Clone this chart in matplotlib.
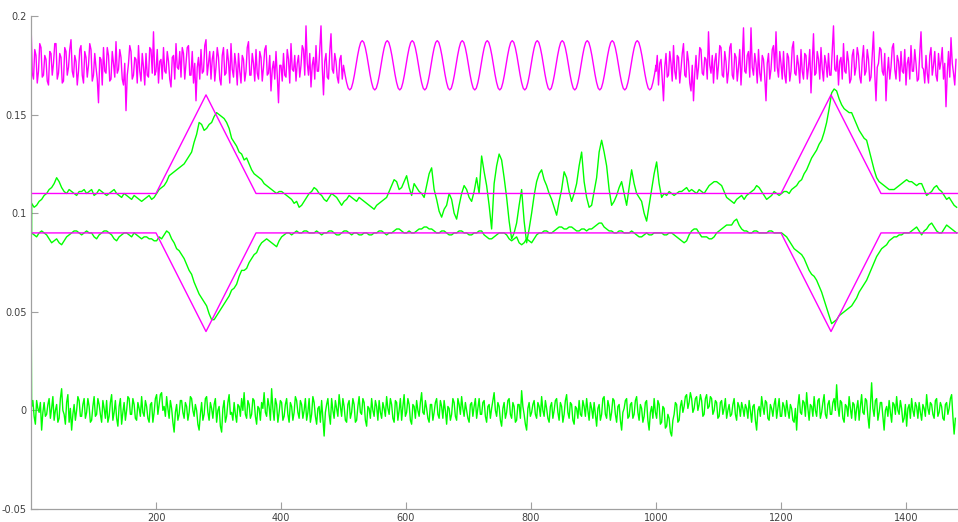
import numpy as np
import matplotlib
matplotlib.use("Agg")
import matplotlib.pyplot as plt

MAGENTA = "#ff00ff"
GREEN = "#00ff00"

# -------- reference profiles (breakpoints) --------
ref_x = [0, 200, 280, 360, 1200, 1280, 1360, 1483]
ref_upper = [0.11, 0.11, 0.16, 0.11, 0.11, 0.16, 0.11, 0.11]
ref_lower = [0.09, 0.09, 0.04, 0.09, 0.09, 0.04, 0.09, 0.09]

# -------- top magenta trace, values in 1e-3 --------
# noisy part, x = 0..500 step 2
top_noise_a = [
    197, 171, 168, 183, 180, 166, 172, 186, 184, 169, 170, 180, 178, 167, 165, 182, 181, 170, 176, 186,
    186, 168, 171, 181, 179, 166, 167, 184, 182, 170, 174, 183, 188, 172, 169, 180, 177, 165, 172, 183,
    185, 170, 166, 182, 179, 169, 175, 186, 183, 167, 170, 181, 174, 168, 156, 179, 178, 165, 184, 172,
    171, 184, 180, 167, 168, 182, 176, 169, 187, 171, 173, 183, 179, 168, 165, 176, 152, 170, 176, 185,
    182, 168, 170, 179, 178, 166, 185, 172, 167, 181, 174, 165, 181, 170, 169, 184, 183, 171, 192, 170,
    172, 183, 166, 177, 178, 168, 184, 172, 171, 182, 177, 168, 164, 179, 180, 168, 186, 174, 173, 182,
    169, 184, 181, 168, 176, 184, 185, 170, 170, 182, 166, 176, 157, 174, 179, 168, 183, 171, 172, 185,
    188, 170, 176, 182, 168, 178, 182, 167, 174, 184, 179, 168, 165, 180, 184, 170, 171, 183, 177, 166,
    186, 173, 169, 181, 175, 165, 181, 172, 166, 180, 178, 167, 172, 184, 187, 170, 170, 181, 176, 167,
    183, 171, 168, 182, 179, 167, 174, 183, 185, 170, 171, 180, 162, 173, 177, 168, 182, 170, 156, 175,
    175, 167, 181, 170, 169, 183, 178, 166, 186, 173, 172, 180, 167, 176, 180, 169, 175, 185, 183, 170,
    195, 176, 170, 181, 164, 175, 179, 168, 185, 172, 172, 183, 195, 174, 160, 177, 181, 169, 168, 182,
    191, 173, 171, 181, 177, 169, 166, 178, 180, 168, 175,
]
# clean oscillation, x = 500..1000 step 2.5
top_wave = [
    175.0, 170.2, 166.2, 163.4, 162.5, 163.4, 166.2, 170.2, 175.0, 179.8, 183.8, 186.6, 187.5, 186.6, 183.8, 179.8,
    175.0, 170.2, 166.2, 163.4, 162.5, 163.4, 166.2, 170.2, 175.0, 179.8, 183.8, 186.6, 187.5, 186.6, 183.8, 179.8,
    175.0, 170.2, 166.2, 163.4, 162.5, 163.4, 166.2, 170.2, 175.0, 179.8, 183.8, 186.6, 187.5, 186.6, 183.8, 179.8,
    175.0, 170.2, 166.2, 163.4, 162.5, 163.4, 166.2, 170.2, 175.0, 179.8, 183.8, 186.6, 187.5, 186.6, 183.8, 179.8,
    175.0, 170.2, 166.2, 163.4, 162.5, 163.4, 166.2, 170.2, 175.0, 179.8, 183.8, 186.6, 187.5, 186.6, 183.8, 179.8,
    175.0, 170.2, 166.2, 163.4, 162.5, 163.4, 166.2, 170.2, 175.0, 179.8, 183.8, 186.6, 187.5, 186.6, 183.8, 179.8,
    175.0, 170.2, 166.2, 163.4, 162.5, 163.4, 166.2, 170.2, 175.0, 179.8, 183.8, 186.6, 187.5, 186.6, 183.8, 179.8,
    175.0, 170.2, 166.2, 163.4, 162.5, 163.4, 166.2, 170.2, 175.0, 179.8, 183.8, 186.6, 187.5, 186.6, 183.8, 179.8,
    175.0, 170.2, 166.2, 163.4, 162.5, 163.4, 166.2, 170.2, 175.0, 179.8, 183.8, 186.6, 187.5, 186.6, 183.8, 179.8,
    175.0, 170.2, 166.2, 163.4, 162.5, 163.4, 166.2, 170.2, 175.0, 179.8, 183.8, 186.6, 187.5, 186.6, 183.8, 179.8,
    175.0, 170.2, 166.2, 163.4, 162.5, 163.4, 166.2, 170.2, 175.0, 179.8, 183.8, 186.6, 187.5, 186.6, 183.8, 179.8,
    175.0, 170.2, 166.2, 163.4, 162.5, 163.4, 166.2, 170.2, 175.0, 179.8, 183.8, 186.6, 187.5, 186.6, 183.8, 179.8,
    175.0, 170.2, 166.2, 163.4, 162.5, 163.4, 166.2, 170.2, 175.0,
]
# noisy part again, x = 1000..1480 step 2
top_noise_b = [
    172, 180, 165, 176, 178, 168, 157, 174, 181, 169, 170, 182, 176, 167, 185, 172, 168, 180, 179, 166,
    173, 181, 186, 170, 169, 182, 177, 166, 162, 175, 157, 171, 180, 168, 174, 184, 183, 171, 170, 179,
    178, 168, 192, 175, 171, 180, 166, 177, 181, 168, 175, 185, 184, 170, 169, 182, 177, 166, 172, 184,
    186, 170, 168, 181, 179, 167, 174, 183, 165, 177, 194, 172, 171, 180, 182, 169, 194, 174, 170, 181,
    176, 166, 183, 171, 167, 180, 178, 169, 157, 176, 181, 168, 173, 183, 185, 172, 192, 174, 169, 182,
    176, 168, 182, 170, 166, 181, 179, 167, 172, 184, 187, 171, 170, 180, 175, 166, 183, 172, 168, 181,
    180, 168, 174, 183, 161, 176, 191, 170, 171, 182, 178, 168, 184, 173, 167, 180, 176, 169, 181, 170,
    170, 182, 195, 173, 172, 180, 165, 177, 179, 168, 186, 172, 171, 182, 177, 166, 168, 180, 183, 170,
    174, 184, 180, 169, 166, 178, 185, 170, 172, 183, 178, 167, 169, 181, 192, 171, 157, 174, 176, 184,
    183, 172, 170, 181, 157, 171, 179, 168, 174, 184, 186, 173, 168, 180, 177, 167, 182, 172, 171, 183,
    165, 176, 179, 168, 185, 172, 172, 183, 176, 167, 168, 181, 192, 174, 173, 166, 180, 171, 166, 180,
    184, 170, 175, 182, 170, 167, 181, 173, 177, 184, 168, 176, 154, 171, 182, 169, 189, 176, 171, 165,
    178,
]

# -------- green estimates, values in 1e-3 --------
# first sample at x=0, the rest at x = 1, 5, 9, ... (step 4)
upper_first = 70
upper_est = [
    105, 103, 104, 106, 107, 109, 110, 112, 113, 115, 118, 116, 113, 111, 110, 112, 111, 110, 109, 111,
    111, 112, 110, 111, 112, 109, 110, 112, 111, 110, 109, 110, 111, 112, 110, 109, 108, 110, 109, 108,
    107, 109, 108, 107, 106, 107, 108, 109, 107, 108, 110, 112, 113, 114, 116, 119, 120, 121, 122, 123,
    124, 125, 127, 129, 131, 136, 140, 146, 145, 142, 143, 145, 146, 149, 151, 150, 149, 148, 146, 143,
    138, 136, 134, 131, 130, 127, 128, 125, 122, 120, 119, 118, 117, 115, 114, 113, 112, 111, 110, 111,
    111, 110, 109, 108, 107, 105, 106, 103, 104, 106, 108, 110, 111, 113, 112, 110, 109, 107, 106, 108,
    110, 109, 108, 106, 104, 106, 107, 109, 108, 107, 106, 108, 107, 106, 105, 104, 103, 102, 104, 105,
    106, 107, 108, 111, 114, 117, 116, 112, 113, 116, 119, 113, 109, 115, 113, 111, 110, 108, 114, 120,
    123, 112, 107, 101, 98, 102, 104, 110, 107, 100, 97, 104, 110, 114, 112, 108, 106, 111, 118, 110,
    129, 121, 114, 104, 92, 115, 124, 130, 127, 118, 108, 96, 87, 90, 95, 104, 112, 96, 85, 92,
    100, 109, 116, 120, 122, 117, 114, 110, 107, 103, 99, 106, 112, 121, 118, 111, 106, 110, 115, 124,
    131, 116, 108, 103, 104, 111, 118, 131, 137, 131, 124, 112, 104, 106, 109, 113, 116, 110, 104, 113,
    122, 115, 110, 108, 106, 100, 96, 104, 112, 120, 126, 115, 108, 110, 109, 111, 110, 109, 110, 111,
    111, 112, 113, 111, 112, 111, 110, 112, 111, 110, 112, 114, 115, 116, 116, 115, 114, 111, 108, 107,
    106, 105, 107, 108, 109, 107, 109, 110, 111, 112, 114, 113, 111, 109, 107, 108, 109, 111, 110, 109,
    110, 111, 111, 110, 112, 113, 114, 116, 117, 120, 122, 125, 128, 130, 132, 135, 137, 141, 146, 153,
    161, 163, 162, 158, 155, 153, 152, 151, 151, 148, 145, 142, 140, 138, 137, 132, 127, 122, 118, 116,
    115, 114, 113, 112, 112, 112, 113, 114, 115, 116, 117, 116, 116, 115, 114, 115, 115, 112, 109, 110,
    111, 113, 114, 112, 111, 109, 107, 108, 106, 104, 103,
]
lower_first = 130
lower_est = [
    90, 89, 88, 90, 91, 90, 89, 87, 85, 86, 87, 85, 84, 86, 88, 89, 90, 91, 91, 90,
    89, 90, 91, 90, 90, 88, 87, 89, 90, 91, 91, 90, 89, 87, 86, 88, 89, 90, 90, 89,
    88, 90, 89, 88, 87, 88, 88, 87, 87, 86, 86, 88, 87, 89, 91, 90, 87, 85, 82, 81,
    79, 77, 74, 71, 69, 65, 62, 59, 57, 55, 53, 49, 46, 46, 48, 50, 52, 54, 56, 58,
    61, 62, 64, 68, 71, 71, 72, 75, 77, 79, 80, 83, 85, 86, 87, 86, 85, 84, 83, 86,
    88, 89, 90, 90, 89, 90, 91, 90, 90, 91, 91, 90, 90, 90, 91, 90, 89, 90, 90, 91,
    91, 90, 89, 89, 90, 91, 91, 90, 89, 90, 90, 89, 89, 90, 90, 89, 89, 90, 90, 91,
    91, 90, 89, 90, 90, 91, 92, 92, 91, 90, 90, 91, 90, 90, 91, 92, 92, 93, 93, 92,
    92, 91, 90, 90, 91, 91, 90, 89, 89, 90, 90, 91, 91, 90, 90, 89, 89, 90, 90, 91,
    91, 89, 88, 87, 87, 88, 89, 90, 90, 90, 89, 87, 86, 87, 88, 85, 84, 85, 87, 86,
    85, 87, 89, 90, 90, 91, 91, 90, 90, 91, 92, 93, 93, 92, 92, 93, 93, 92, 91, 91,
    92, 92, 91, 92, 92, 93, 94, 95, 95, 93, 92, 91, 91, 90, 90, 91, 91, 90, 90, 90,
    91, 90, 89, 88, 88, 89, 90, 89, 89, 90, 90, 90, 90, 89, 89, 90, 90, 89, 88, 87,
    86, 85, 86, 89, 91, 92, 92, 90, 88, 88, 88, 87, 87, 88, 90, 91, 92, 93, 94, 94,
    94, 96, 97, 94, 92, 91, 91, 90, 90, 91, 91, 90, 90, 90, 90, 91, 91, 90, 90, 90,
    90, 89, 88, 86, 84, 82, 81, 80, 79, 77, 74, 71, 69, 68, 66, 63, 60, 56, 52, 48,
    44, 45, 46, 48, 49, 50, 51, 52, 53, 55, 57, 60, 62, 64, 66, 69, 72, 75, 78, 80,
    82, 83, 84, 86, 87, 88, 88, 89, 89, 90, 90, 90, 91, 92, 93, 91, 89, 91, 92, 94,
    95, 93, 91, 90, 90, 92, 94, 93, 92, 91, 90,
]
# bottom residual: first sample at x=0, the rest at x = 1, 3, 5, ... (step 2)
resid_first = 70
resid = [
    2, 5, -3, -7, 5, 1, -1, 4, -10, -1, 4, -3, -2, 3, 6, -4, 1, 7, -5, 0, 3, -6, -4, 6, 11, 0, -2, -7, 4, 8, -6, 1, -10, -2, 3, -5, 0, 7, 5, -3,
    -3, 3, 6, -4, -1, 6, 2, -6, -5, 2, 7, -3, -2, 6, 3, -2, -6, 5, 1, -4, 5, -6, -3, 4, 8, -5, -1, 5, -4, -8, 2, 6, -7, -1, 4, -5, 0, 7, 6, -2,
    -2, 6, 3, -4, -5, 4, 1, -3, 7, -1, -3, 5, 2, -4, -6, 3, 4, -6, -1, 6, 8, -2, 3, 8, 9, 0, 2, -3, 7, 1, -4, 5, 1, -6, -11, -1, 3, -5, -2, 5,
    5, -1, -4, 4, 2, -5, -1, 7, 6, 0, -3, 3, 0, -7, -10, -2, 4, -5, -2, 6, 7, -1, -5, 4, 1, -4, 3, 6, -6, 0, 2, -8, -11, 1, 5, -6, -3, 4, 8, -2,
    -1, -5, 4, -2, -6, 3, 2, -3, 6, 0, 9, -2, -4, 5, 3, -4, -2, 6, 5, -3, -7, 2, 1, -5, 4, 1, 9, -1, -3, 6, 2, -5, 11, 1, -5, 6, 3, -6, -1, 5,
    4, -5, -3, 3, 6, -2, -6, 4, 2, -5, -1, 7, 5, -1, -4, 5, 3, -4, 0, 6, -5, -1, 6, -6, -2, 7, 4, -3, -7, 1, 2, -6, 5, -4, -13, -1, 3, 6, -2, -7,
    6, 0, -4, 5, 1, -3, 8, 2, -3, 6, 2, -5, -6, 3, 5, -4, -1, 6, 3, -6, -5, 2, 7, -1, -2, 6, 4, -5, -8, 2, 1, -4, 6, 0, -3, 5, 2, -5, 5, -1,
    -4, 4, 1, -3, 7, 1, -2, 6, 3, -4, -6, 5, 4, -5, 0, 6, -5, 2, 8, -3, -1, 6, 3, -5, -7, 3, 2, -4, 5, 0, -3, 4, 9, -1, -2, 5, 1, -4, -6, 3,
    3, -5, -1, 4, 6, -2, -4, 5, 2, -4, 5, 0, -7, 2, 1, -5, -2, 6, 4, -3, -5, 6, 3, -2, 7, 1, -3, 4, 0, -4, -6, 3, 4, -3, 2, 6, -4, 1, 6, -2,
    -2, 4, 5, -3, -6, 2, 3, -4, 1, 5, 9, 0, -3, 4, 2, -5, -8, 1, 4, -4, -1, 5, 6, -2, -4, 4, 2, -6, -5, 3, 3, -4, 10, 2, -2, -7, -10, 1, 4, -3,
    -1, 3, 5, -2, -4, 4, 2, -3, 7, 0, -3, 5, 1, -4, -6, 2, 4, -4, 0, 5, 6, -1, -5, 4, 2, -6, -2, 5, 8, -1, -4, 4, 3, -5, -7, 2, 1, -4, 5, -2,
    -3, 5, 2, -3, 6, 0, -5, 4, 1, -4, 4, -2, -8, 1, 3, -5, -2, 6, 7, -2, -4, 5, 2, -5, -1, 6, 5, -2, -6, 2, 3, -5, -10, -1, 1, 5, 6, -4, -3, 3,
    4, -4, -2, 5, 7, -1, -5, 3, 1, -6, -3, 4, 5, -5, -10, -1, 2, -4, 6, -1, -4, 5, 3, -7, -6, 2, 1, -9, -8, -2, -4, -11, -13, -5, -2, 4, 3, -6, -5, 2,
    5, -1, 2, 7, 8, 1, 4, 9, 6, -1, 1, 6, 7, 0, 3, 8, 5, -3, -2, 6, 8, 1, 2, 7, 6, -2, 0, 5, 4, -4, -3, 4, 5, -2, 1, 6, -4, 0, 3, -3,
    -2, 3, 6, -2, -5, 4, 2, -3, 4, 1, -3, 3, 1, -4, 5, 0, -6, 2, 3, -5, -10, 0, 2, -3, 7, 2, -2, 5, 4, -4, -5, 3, 1, -3, 3, 6, -4, 1, 6, -3,
    -3, 4, 2, -3, 5, 0, -4, 3, 1, -5, -6, 1, -10, 2, 8, -1, -2, 5, 4, -3, 9, 1, -5, 3, 2, -3, 7, 0, -3, 5, 6, -4, -1, 4, 8, -2, -4, 3, 5, -2,
    -2, 4, 6, 0, 13, 2, -3, 5, 4, -4, -6, 3, 2, -3, 7, 1, -4, 4, 3, -5, 1, 5, -5, 2, 8, -1, -2, 6, 5, -3, -9, 2, 14, 1, -3, 5, 6, -5, -1, 4,
    4, -3, -10, 0, 2, -3, 5, -1, -6, 4, 3, -2, 7, 0, -2, 5, 1, -6, -4, 3, -8, 1, 3, -4, 6, 0, -3, 4, 2, -4, 4, -1, -5, 3, 1, -3, 8, 1, -2, 4,
    3, -2, -4, 5, 6, -3, -1, 4, 2, -4, -5, 3, 4, -2, 1, 6, 8, -3, -12, -4,
]

# -------- sample positions --------
top_x = np.concatenate([
    2 * np.arange(len(top_noise_a)),
    500 + 2.5 * np.arange(len(top_wave)),
    1000 + 2 * np.arange(len(top_noise_b)),
])
top_y = np.concatenate([top_noise_a, top_wave, top_noise_b]) / 1000

est_x = np.concatenate([[0], 1 + 4 * np.arange(len(upper_est))])
upper_y = np.array([upper_first] + upper_est) / 1000
lower_y = np.array([lower_first] + lower_est) / 1000

resid_x = np.concatenate([[0], 1 + 2 * np.arange(len(resid))])
resid_y = np.array([resid_first] + resid) / 1000

# -------- plot --------
fig = plt.figure(figsize=(9.58, 5.22), dpi=100)
ax = fig.add_axes([31 / 958, 13 / 522, 927 / 958, 493 / 522])

lw = 1.0
ax.plot(top_x, top_y, color=MAGENTA, lw=lw)
ax.plot(est_x, upper_y, color=GREEN, lw=lw)
ax.plot(est_x, lower_y, color=GREEN, lw=lw)
ax.plot(resid_x, resid_y, color=GREEN, lw=lw)
ax.plot(ref_x, ref_upper, color=MAGENTA, lw=lw)
ax.plot(ref_x, ref_lower, color=MAGENTA, lw=lw)

ax.set_xlim(0, 1483.2)
ax.set_ylim(-0.05, 0.2)
ax.set_xticks([200, 400, 600, 800, 1000, 1200, 1400])
ax.set_yticks([-0.05, 0, 0.05, 0.1, 0.15, 0.2])
ax.set_yticklabels(["-0.05", "0", "0.05", "0.1", "0.15", "0.2"])

for side in ["top", "right"]:
    ax.spines[side].set_visible(False)
for side in ["left", "bottom"]:
    ax.spines[side].set_color("#a0a0a0")
    ax.spines[side].set_linewidth(0.9)
ax.tick_params(direction="in", length=5, width=0.8, color="#a0a0a0",
               labelcolor="#404040", labelsize=7, pad=3)

fig.savefig("out.png", dpi=100)
